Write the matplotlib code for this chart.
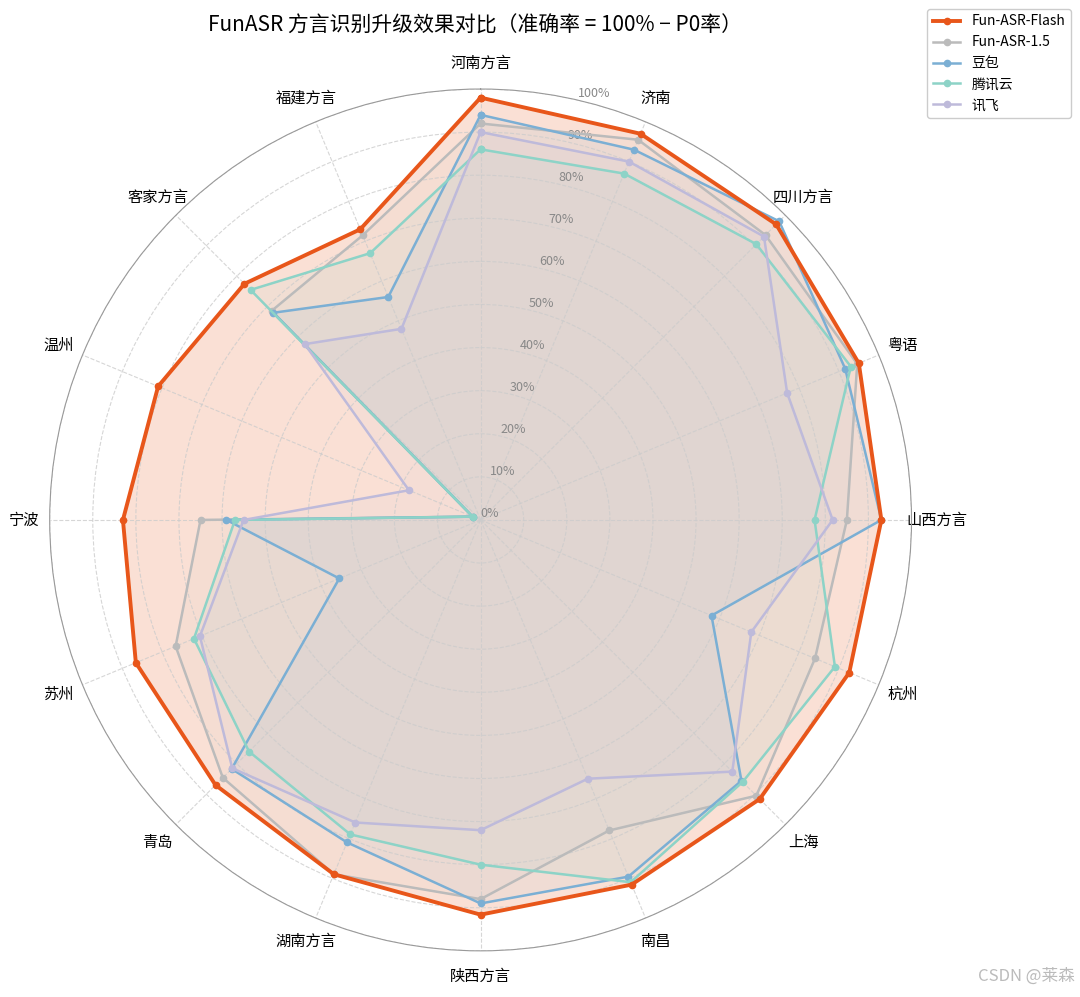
import numpy as np
import matplotlib
matplotlib.use("Agg")
import matplotlib.pyplot as plt

plt.rcParams['font.family'] = ['Noto Sans CJK SC', 'DejaVu Sans']

categories = ["河南方言", "济南", "四川方言", "粤语", "山西方言", "杭州", "上海", "南昌",
              "陕西方言", "湖南方言", "青岛", "苏州", "宁波", "温州", "客家方言", "福建方言"]
flash = [98, 97, 97, 95, 93, 92.6, 91.6, 91.6, 91.6, 89, 87, 86.6, 83, 81, 77.5, 73]
v15 = [92, 95.5, 93.5, 94.6, 85, 84, 90.5, 78, 88, 89, 84.6, 76.6, 65, 2, 68.6, 71.5]
doubao = [94, 93, 98, 91.6, 93, 58, 85.6, 89.6, 89, 81, 81.7, 35.5, 59, 2, 68, 56]
tencent = [86, 87, 90.5, 93, 77.5, 89, 86, 91, 80, 79, 76, 72, 57, 2, 75.5, 67]
xunfei = [90, 90, 93, 77, 81.7, 68, 82.6, 65, 72, 76, 81.5, 70.5, 55, 18, 57.7, 48]
rticks = [0, 10, 20, 30, 40, 50, 60, 70, 80, 90, 100]

series = [("Fun-ASR-Flash", flash, "#E8561A", 2.8, 0.18),
          ("Fun-ASR-1.5", v15, "#BBBBBB", 1.8, 0.08),
          ("豆包", doubao, "#7BAFD4", 1.8, 0.08),
          ("腾讯云", tencent, "#8DD3C7", 1.8, 0.08),
          ("讯飞", xunfei, "#BEBADA", 1.8, 0.08)]

n = len(categories)
angles = np.linspace(0, 2 * np.pi, n, endpoint=False)
ang_c = np.concatenate([angles, angles[:1]])

fig = plt.figure(figsize=(10.8, 9.97), dpi=100)
ax = fig.add_axes([0.046, 0.046, 0.798, 0.865], projection='polar')
ax.set_theta_offset(np.pi / 2)
ax.set_theta_direction(-1)

for name, vals, col, lw, al in series:
    v = np.concatenate([vals, vals[:1]])
    ax.plot(ang_c, v, color=col, lw=lw, marker='o', ms=4.5, label=name, zorder=3 if name == "Fun-ASR-Flash" else 2)
    ax.fill(ang_c, v, color=col, alpha=al)

ax.set_ylim(0, 100)
ax.set_xticks(angles)
ax.set_xticklabels(categories, fontsize=11)
ax.tick_params(axis='x', pad=8)
ax.set_yticks(rticks)
ax.set_yticklabels([f"{t}%" for t in rticks], fontsize=9, color="#888888")
ax.set_rlabel_position(13)
ax.grid(True, linestyle='--', color='#CCCCCC', alpha=0.8)
ax.spines['polar'].set_color('#999999')

fig.suptitle("FunASR 方言识别升级效果对比（准确率 = 100% − P0率）", fontsize=15, y=0.985, x=0.44)
fig.legend(loc='upper right', bbox_to_anchor=(0.998, 0.998), fontsize=10, framealpha=1)
fig.text(0.995, 0.012, "CSDN @莱森", ha='right', va='bottom', fontsize=12, color='#BBBBBB')

fig.savefig("out.png", dpi=100)
